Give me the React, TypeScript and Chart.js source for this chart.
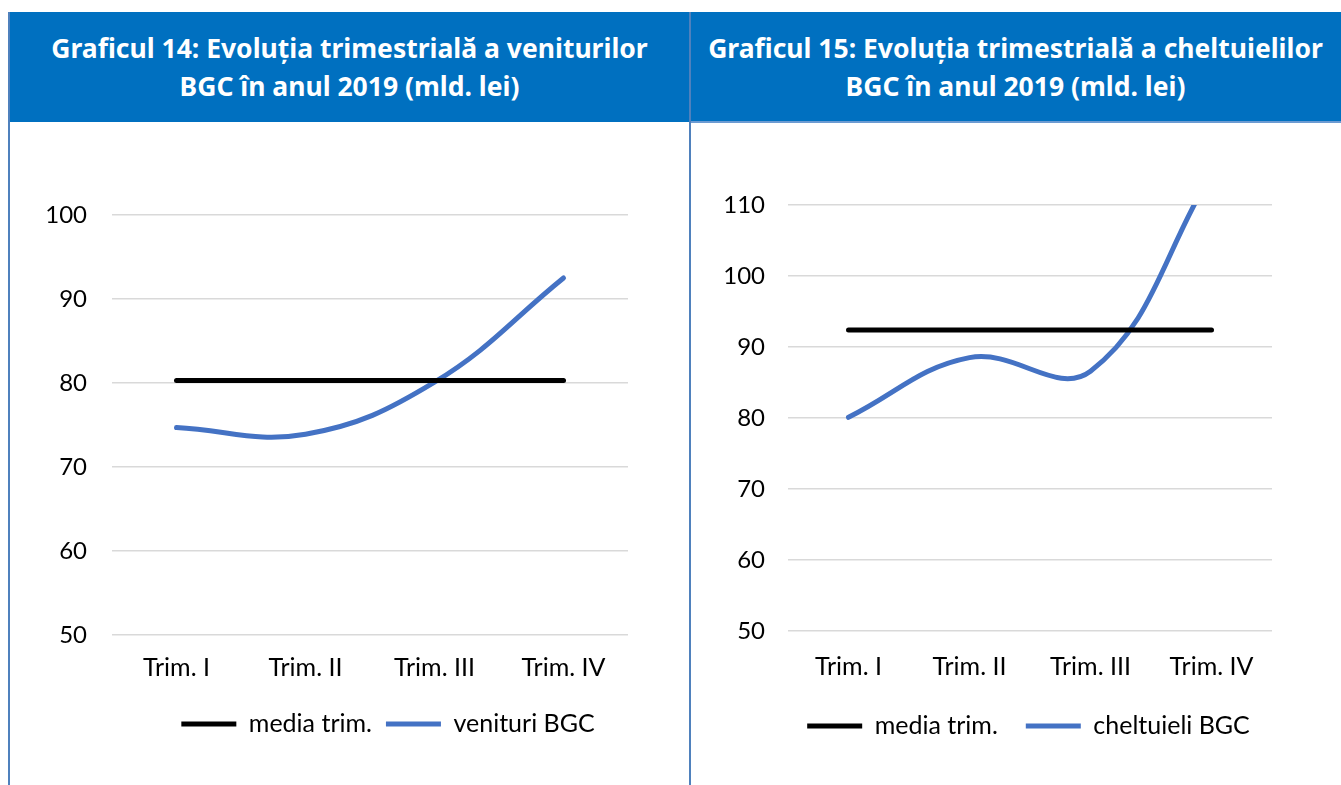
import React, { useEffect, useRef } from "react";
import { Chart, registerables } from "chart.js";

Chart.register(...registerables);

const categories = ["Trim. I", "Trim. II", "Trim. III", "Trim. IV"];

const venituriLabel = "venituri BGC";
const venituriBGC = [74.7, 73.9, 80.1, 92.5];
const mediaVenituri = [80.3, 80.3, 80.3, 80.3];
const venituriTicks = [50, 60, 70, 80, 90, 100];

const cheltuieliLabel = "cheltuieli BGC";
const cheltuieliBGC = [80.1, 88.5, 86.6, 114.4];
const mediaCheltuieli = [92.4, 92.4, 92.4, 92.4];
const cheltuieliTicks = [50, 60, 70, 80, 90, 100, 110];

const mediaLabel = "media trim.";

const title14 = ["Graficul 14: Evoluția trimestrială a veniturilor", "BGC în anul 2019 (mld. lei)"];
const title15 = ["Graficul 15: Evoluția trimestrială a cheltuielilor", "BGC în anul 2019 (mld. lei)"];

const FONT = "Lato, 'Noto Sans', sans-serif";
const TITLE_FONT = "'Noto Sans', Lato, sans-serif";
const BLUE_LINE = "#4472C4";
const HEADER_BG = "#0070C0";
const BORDER = "#4F81BD";

type ChartProps = {
  seriesLabel: string;
  series: number[];
  media: number[];
  ticks: number[];
  padding: { left: number; right: number; top: number; bottom: number };
  tickPad: number;
  xTickPad: number;
  yWidth: number;
  xHeight: number;
  legendPad: number;
  legendShiftX: number;
  legendShiftY: number;
  width: number;
  height: number;
};

function LineChart(p: ChartProps) {
  const ref = useRef<HTMLCanvasElement | null>(null);
  useEffect(() => {
    if (!ref.current) return;
    const shiftLegend = {
      id: "shiftLegend",
      afterLayout(chart: any) {
        const lg = chart.legend;
        if (lg) {
          lg.left += p.legendShiftX;
          lg.right += p.legendShiftX;
          lg.top += p.legendShiftY;
          lg.bottom += p.legendShiftY;
        }
      },
    };
    const chart = new Chart(ref.current, {
      type: "line",
      data: {
        labels: categories,
        datasets: [
          {
            label: mediaLabel,
            data: p.media,
            borderColor: "#000000",
            backgroundColor: "#000000",
            borderWidth: 5,
            pointRadius: 0,
            tension: 0,
            borderCapStyle: "round",
            clip: 0,
          },
          {
            label: p.seriesLabel,
            data: p.series,
            borderColor: BLUE_LINE,
            backgroundColor: BLUE_LINE,
            borderWidth: 5,
            pointRadius: 0,
            tension: 0.4,
            borderCapStyle: "round",
            clip: 0,
          },
        ],
      },
      plugins: [shiftLegend],
      options: {
        animation: false,
        responsive: false,
        maintainAspectRatio: false,
        layout: { padding: p.padding },
        plugins: {
          tooltip: { enabled: false },
          legend: {
            position: "bottom",
            labels: {
              boxWidth: 55,
              boxHeight: 5,
              padding: p.legendPad,
              color: "#000",
              font: { family: FONT, size: 25 },
              generateLabels: (c: any) =>
                c.data.datasets.map((d: any, i: number) => ({
                  text: d.label,
                  fillStyle: d.borderColor,
                  strokeStyle: d.borderColor,
                  lineWidth: 0,
                  hidden: false,
                  datasetIndex: i,
                  fontColor: "#000",
                })),
            },
          },
        },
        scales: {
          x: {
            offset: true,
            grid: { display: false, drawTicks: false },
            border: { display: false },
            ticks: { color: "#000", font: { family: FONT, size: 25 }, padding: p.xTickPad },
            afterFit: (s: any) => {
              s.height = p.xHeight;
            },
          },
          y: {
            min: p.ticks[0],
            max: p.ticks[p.ticks.length - 1],
            afterBuildTicks: (s: any) => {
              s.ticks = p.ticks.map((v) => ({ value: v }));
            },
            grid: { color: "#D9D9D9", lineWidth: 1.5, drawTicks: false },
            border: { display: false },
            ticks: { color: "#000", font: { family: FONT, size: 24 }, padding: p.tickPad },
            afterFit: (s: any) => {
              s.width = p.yWidth;
            },
          },
        },
      },
    });
    return () => chart.destroy();
  }, []);
  return <canvas ref={ref} width={p.width} height={p.height} style={{ display: "block", width: p.width, height: p.height }} />;
}

function Header({ lines, left, width }: { lines: string[]; left: number; width: number }) {
  return (
    <div
      style={{
        position: "absolute",
        left,
        top: 12,
        width,
        height: 110,
        background: HEADER_BG,
        color: "#fff",
        fontFamily: TITLE_FONT,
        fontWeight: 700,
        fontSize: 26.5,
        lineHeight: "38px",
        textAlign: "center",
        display: "flex",
        flexDirection: "column",
        justifyContent: "center",
        whiteSpace: "nowrap",
      }}
    >
      {lines.map((l, i) => (
        <div key={i}>{l}</div>
      ))}
    </div>
  );
}

export default function App() {
  return (
    <div style={{ position: "fixed", left: 0, top: 0, width: 1341, height: 785, background: "#fff", overflow: "hidden" }}>
      <Header lines={title14} left={9} width={681} />
      <Header lines={title15} left={690} width={651} />
      <div style={{ position: "absolute", left: 691, top: 121, width: 650, height: 2, background: "#6C9BD2" }} />
      <div style={{ position: "absolute", left: 8, top: 12, width: 2, height: 773, background: BORDER }} />
      <div style={{ position: "absolute", left: 689, top: 12, width: 2, height: 773, background: BORDER }} />
      <div style={{ position: "absolute", left: 10, top: 123 }}>
        <LineChart
          seriesLabel={venituriLabel}
          series={venituriBGC}
          media={mediaVenituri}
          ticks={venituriTicks}
          padding={{ left: 0, right: 61, top: 92, bottom: 51 }}
          tickPad={25}
          xTickPad={18}
          yWidth={102}
          xHeight={50}
          legendPad={14}
          legendShiftX={69}
          legendShiftY={12.5}
          width={679}
          height={662}
        />
      </div>
      <div style={{ position: "absolute", left: 691, top: 123 }}>
        <LineChart
          seriesLabel={cheltuieliLabel}
          series={cheltuieliBGC}
          media={mediaCheltuieli}
          ticks={cheltuieliTicks}
          padding={{ left: 0, right: 69, top: 82, bottom: 39 }}
          tickPad={23}
          xTickPad={21}
          yWidth={97}
          xHeight={52}
          legendPad={28}
          legendShiftX={47}
          legendShiftY={2.5}
          width={650}
          height={662}
        />
      </div>
    </div>
  );
}
